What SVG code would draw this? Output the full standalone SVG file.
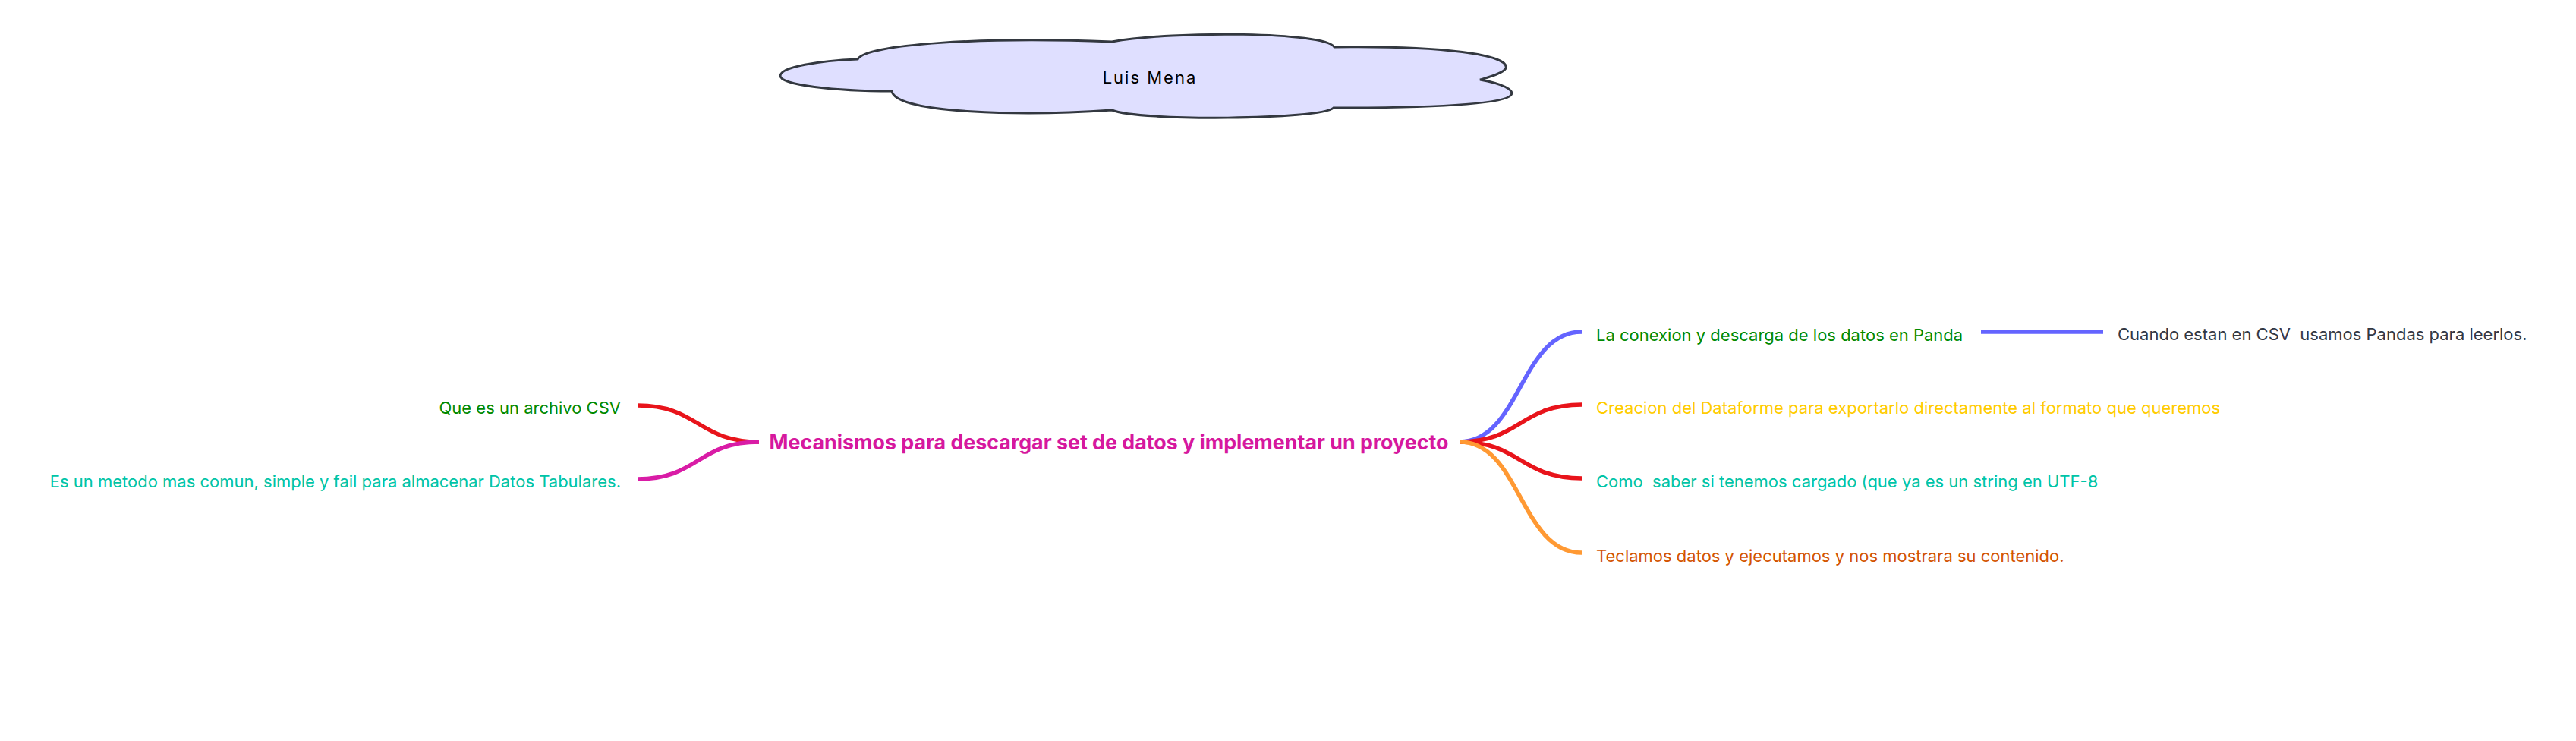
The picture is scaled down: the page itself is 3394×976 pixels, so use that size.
<svg xmlns="http://www.w3.org/2000/svg" width="3394" height="976" viewBox="0 0 3394 976">
<style>
text{font-family:Inter,"Noto Sans","Liberation Sans",sans-serif;font-size:22px;white-space:pre}
.edge{fill:none;stroke-width:5.5;stroke-linecap:butt}
.root{font-size:26.8px;font-weight:700;fill:#d6189e}
</style>
<rect width="3394" height="976" fill="#ffffff"/>
<g id="connectors">
<path class="edge" stroke="#e8141b" d="M1000 582 C920 582,920 534,840 534"/>
<path class="edge" stroke="#d91ca6" d="M1000 582 C920 582,920 631,840 631"/>
<path class="edge" stroke="#6464ff" d="M1923 582 C2003 582,2003 437,2084 437"/>
<path class="edge" stroke="#e8141b" d="M1923 582 C2003 582,2003 533,2084 533"/>
<path class="edge" stroke="#e8141b" d="M1923 582 C2003 582,2003 630,2084 630"/>
<path class="edge" stroke="#ff9933" d="M1923 582 C2003 582,2003 728,2084 728"/>
<path class="edge" stroke="#6464ff" d="M2610 437 L2771 437"/>
</g>
<g id="cloud">
<path fill="#dfdfff" stroke="#333840" stroke-width="3" d="M1130 78 C1140 58,1300 48,1465 55 C1550 40,1745 42,1758 62 C1900 60,1990 72,1984 90 C1980 97,1960 102,1950 105 C1978 110,1996 118,1991 125 C1980 140,1850 142,1757 142 C1740 158,1500 160,1465 145 C1350 153,1180 150,1175 120 C1100 120,1028 112,1028 100 C1028 88,1080 80,1130 78 Z"/>
<text x="1515" y="110" text-anchor="middle" font-size="27" letter-spacing="2" fill="#000000">Luis Mena</text>
</g>
<g id="root">
<text class="root" x="1461" y="592" text-anchor="middle">Mecanismos para descargar set de datos y implementar un proyecto</text>
</g>
<g id="n-que">
<text x="818" y="545" text-anchor="end" fill="#008a00">Que es un archivo CSV</text>
</g>
<g id="n-es">
<text x="818" y="642" text-anchor="end" fill="#00c4a7">Es un metodo mas comun, simple y fail para almacenar Datos Tabulares.</text>
</g>
<g id="n-conexion">
<text x="2103" y="449" fill="#008a00">La conexion y descarga de los datos en Panda</text>
</g>
<g id="n-cuando">
<text x="2790" y="448" fill="#333844" xml:space="preserve">Cuando estan en CSV  usamos Pandas para leerlos.</text>
</g>
<g id="n-creacion">
<text x="2103" y="545" fill="#ffcc00">Creacion del Dataforme para exportarlo directamente al formato que queremos</text>
</g>
<g id="n-como">
<text x="2103" y="642" fill="#00c4a7" xml:space="preserve">Como  saber si tenemos cargado (que ya es un string en UTF-8</text>
</g>
<g id="n-teclamos">
<text x="2103" y="740" fill="#d35400">Teclamos datos y ejecutamos y nos mostrara su contenido.</text>
</g>
</svg>
